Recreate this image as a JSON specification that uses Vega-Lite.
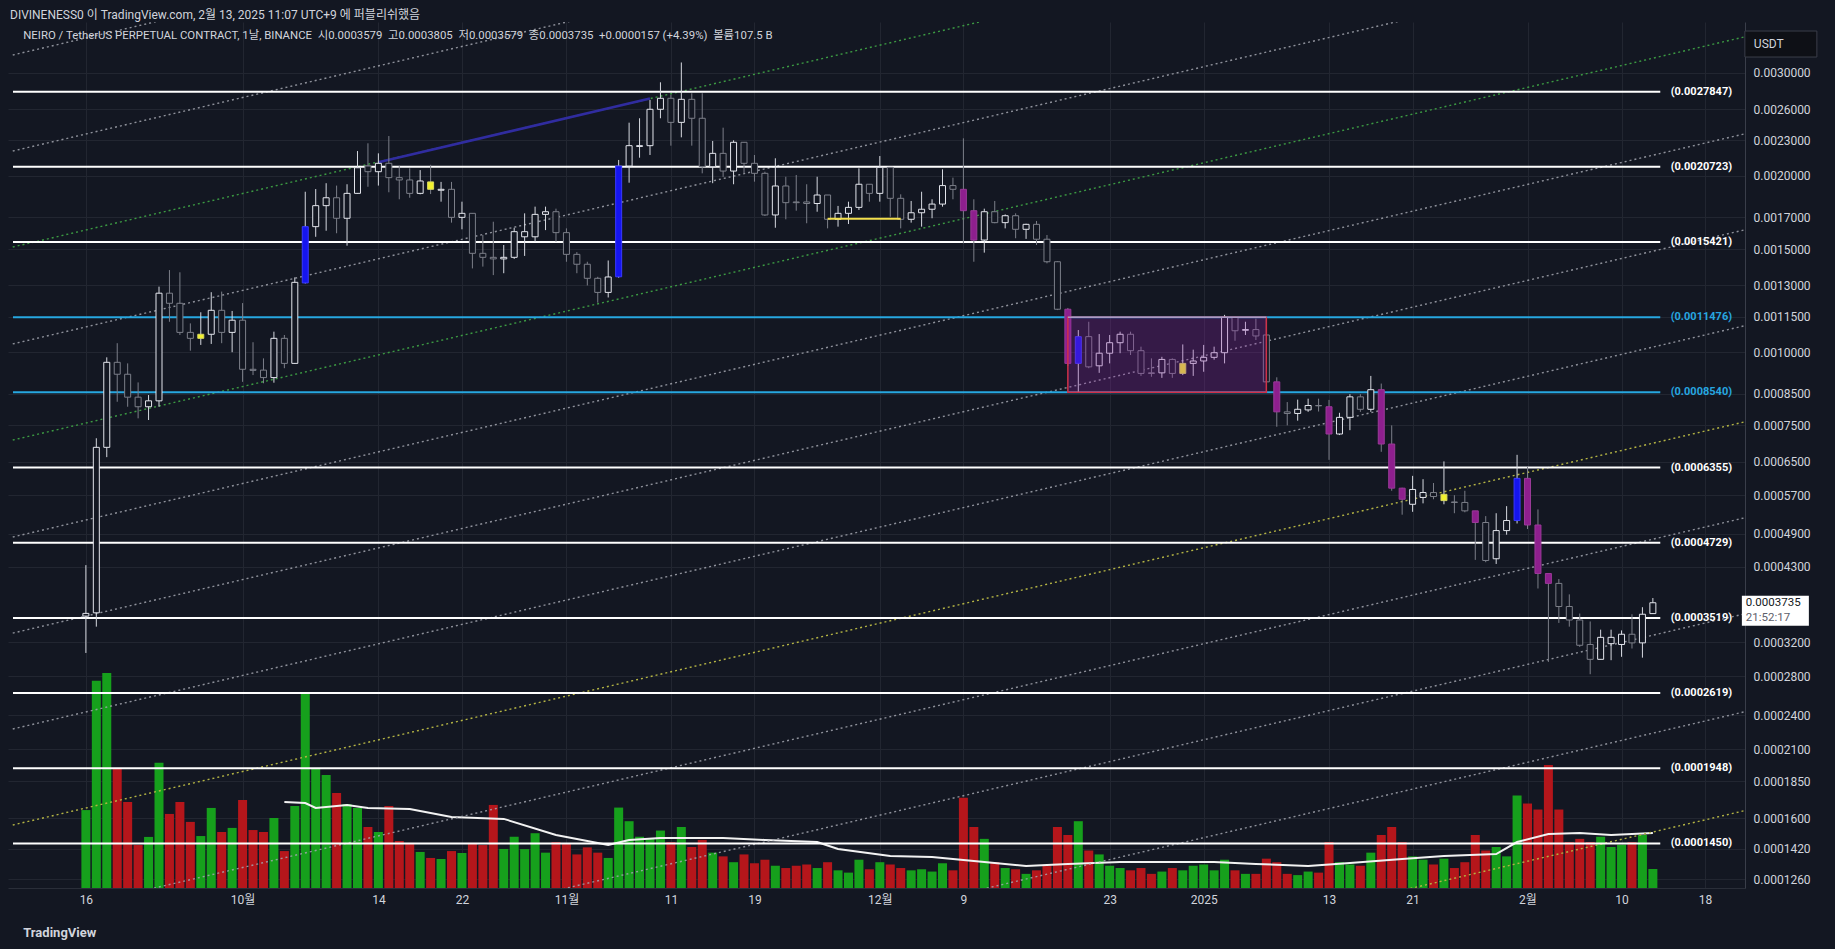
{
"$schema":"https://vega.github.io/schema/vega-lite/v6.json",
"width":1737,"height":866,"autosize":{"type":"none"},
"padding":{"left":8,"top":22,"right":90,"bottom":61},
"background":"#131722",
"config":{"view":{"stroke":null},"font":"Roboto"},
"title":{"text":"DIVINENESS0 이 TradingView.com, 2월 13, 2025 11:07 UTC+9 에 퍼블리쉬했음","anchor":"start","frame":"group","orient":"top","offset":6,"fontSize":12,"fontWeight":"normal","color":"#d1d4dc","font":"Roboto, 'Noto Sans CJK KR'","baseline":"bottom","dx":2,"dy":18},
"datasets":{
"candles":[
{"date":"2024-09-16","o":0.0003544,"h":0.000433,"l":0.0003066,"c":0.0003582,"v":441,"k":"w"},
{"date":"2024-09-17","o":0.000359,"h":0.000713,"l":0.00034,"c":0.000688,"v":1172,"k":"w"},
{"date":"2024-09-18","o":0.000688,"h":0.00098,"l":0.000662,"c":0.000961,"v":1217,"k":"w"},
{"date":"2024-09-19","o":0.000961,"h":0.001036,"l":0.000823,"c":0.000917,"v":674,"k":"g"},
{"date":"2024-09-20","o":0.000917,"h":0.000957,"l":0.000807,"c":0.000838,"v":487,"k":"g"},
{"date":"2024-09-21","o":0.000838,"h":0.000888,"l":0.000771,"c":0.000807,"v":243,"k":"g"},
{"date":"2024-09-22","o":0.000807,"h":0.000845,"l":0.000766,"c":0.000826,"v":289,"k":"w"},
{"date":"2024-09-23","o":0.000826,"h":0.001294,"l":0.000807,"c":0.001261,"v":708,"k":"w"},
{"date":"2024-09-24","o":0.001261,"h":0.001381,"l":0.001127,"c":0.001212,"v":419,"k":"g"},
{"date":"2024-09-25","o":0.001212,"h":0.001369,"l":0.00107,"c":0.001081,"v":487,"k":"g"},
{"date":"2024-09-26","o":0.001081,"h":0.00112,"l":0.001006,"c":0.001056,"v":374,"k":"g"},
{"date":"2024-09-27","o":0.001056,"h":0.00117,"l":0.001029,"c":0.001073,"v":294,"k":"y"},
{"date":"2024-09-28","o":0.001073,"h":0.001266,"l":0.001033,"c":0.001179,"v":453,"k":"w"},
{"date":"2024-09-29","o":0.001179,"h":0.001269,"l":0.001036,"c":0.001081,"v":317,"k":"g"},
{"date":"2024-09-30","o":0.001081,"h":0.001176,"l":0.001,"c":0.001134,"v":340,"k":"w"},
{"date":"2024-10-01","o":0.001134,"h":0.001213,"l":0.00089,"c":0.000935,"v":498,"k":"g"},
{"date":"2024-10-02","o":0.000935,"h":0.00104,"l":0.000914,"c":0.000931,"v":328,"k":"g"},
{"date":"2024-10-03","o":0.000932,"h":0.000976,"l":0.000885,"c":0.000905,"v":317,"k":"g"},
{"date":"2024-10-04","o":0.000905,"h":0.001084,"l":0.000887,"c":0.001056,"v":396,"k":"w"},
{"date":"2024-10-05","o":0.001056,"h":0.00107,"l":0.000939,"c":0.000957,"v":209,"k":"g"},
{"date":"2024-10-06","o":0.000957,"h":0.001342,"l":0.000955,"c":0.001316,"v":464,"k":"w"},
{"date":"2024-10-07","o":0.001313,"h":0.001879,"l":0.00131,"c":0.001638,"v":1098,"k":"b"},
{"date":"2024-10-08","o":0.001638,"h":0.001899,"l":0.001574,"c":0.001779,"v":674,"k":"w"},
{"date":"2024-10-09","o":0.001779,"h":0.001943,"l":0.001612,"c":0.001835,"v":640,"k":"w"},
{"date":"2024-10-10","o":0.001835,"h":0.001925,"l":0.001596,"c":0.001693,"v":538,"k":"g"},
{"date":"2024-10-11","o":0.001693,"h":0.001935,"l":0.00152,"c":0.001867,"v":475,"k":"w"},
{"date":"2024-10-12","o":0.001867,"h":0.002205,"l":0.001865,"c":0.002065,"v":453,"k":"w"},
{"date":"2024-10-13","o":0.002079,"h":0.002273,"l":0.001916,"c":0.002033,"v":345,"k":"g"},
{"date":"2024-10-14","o":0.002033,"h":0.002185,"l":0.001925,"c":0.002101,"v":317,"k":"w"},
{"date":"2024-10-15","o":0.002101,"h":0.002339,"l":0.001875,"c":0.001986,"v":464,"k":"g"},
{"date":"2024-10-16","o":0.001986,"h":0.002081,"l":0.001824,"c":0.001968,"v":266,"k":"g"},
{"date":"2024-10-17","o":0.001968,"h":0.00206,"l":0.001835,"c":0.001867,"v":255,"k":"g"},
{"date":"2024-10-18","o":0.001867,"h":0.002046,"l":0.00186,"c":0.00196,"v":204,"k":"w"},
{"date":"2024-10-19","o":0.001953,"h":0.002089,"l":0.001862,"c":0.001897,"v":170,"k":"y"},
{"date":"2024-10-20","o":0.00189,"h":0.001953,"l":0.001807,"c":0.001897,"v":164,"k":"w"},
{"date":"2024-10-21","o":0.001897,"h":0.001953,"l":0.001664,"c":0.001699,"v":209,"k":"g"},
{"date":"2024-10-22","o":0.001699,"h":0.001807,"l":0.001621,"c":0.001726,"v":198,"k":"w"},
{"date":"2024-10-23","o":0.001726,"h":0.001726,"l":0.00139,"c":0.001475,"v":255,"k":"g"},
{"date":"2024-10-24","o":0.001475,"h":0.001585,"l":0.0014,"c":0.001452,"v":243,"k":"g"},
{"date":"2024-10-25","o":0.001452,"h":0.00167,"l":0.001354,"c":0.001443,"v":470,"k":"g"},
{"date":"2024-10-26","o":0.001443,"h":0.001524,"l":0.001364,"c":0.001452,"v":221,"k":"w"},
{"date":"2024-10-27","o":0.001452,"h":0.001631,"l":0.001443,"c":0.001606,"v":290,"k":"w"},
{"date":"2024-10-28","o":0.001574,"h":0.001726,"l":0.00146,"c":0.001606,"v":220,"k":"w"},
{"date":"2024-10-29","o":0.001574,"h":0.001772,"l":0.001544,"c":0.001719,"v":310,"k":"w"},
{"date":"2024-10-30","o":0.001719,"h":0.001772,"l":0.001616,"c":0.001737,"v":200,"k":"w"},
{"date":"2024-10-31","o":0.001737,"h":0.001758,"l":0.001544,"c":0.0016,"v":260,"k":"g"},
{"date":"2024-11-01","o":0.0016,"h":0.001627,"l":0.001427,"c":0.001469,"v":250,"k":"g"},
{"date":"2024-11-02","o":0.001469,"h":0.001482,"l":0.001364,"c":0.001413,"v":190,"k":"g"},
{"date":"2024-11-03","o":0.001413,"h":0.001427,"l":0.0013,"c":0.001337,"v":230,"k":"g"},
{"date":"2024-11-04","o":0.001337,"h":0.001345,"l":0.001215,"c":0.001265,"v":200,"k":"g"},
{"date":"2024-11-05","o":0.001265,"h":0.001434,"l":0.00124,"c":0.001344,"v":170,"k":"w"},
{"date":"2024-11-06","o":0.001345,"h":0.002129,"l":0.00134,"c":0.002079,"v":455,"k":"b"},
{"date":"2024-11-07","o":0.002079,"h":0.002465,"l":0.001947,"c":0.002252,"v":378,"k":"w"},
{"date":"2024-11-08","o":0.002245,"h":0.002508,"l":0.002148,"c":0.002252,"v":290,"k":"w"},
{"date":"2024-11-09","o":0.002252,"h":0.002695,"l":0.002171,"c":0.002598,"v":278,"k":"w"},
{"date":"2024-11-10","o":0.002598,"h":0.002889,"l":0.002508,"c":0.002713,"v":325,"k":"w"},
{"date":"2024-11-11","o":0.002713,"h":0.00275,"l":0.002252,"c":0.002468,"v":260,"k":"g"},
{"date":"2024-11-12","o":0.002468,"h":0.003123,"l":0.002327,"c":0.002702,"v":345,"k":"w"},
{"date":"2024-11-13","o":0.002702,"h":0.002767,"l":0.002252,"c":0.002508,"v":232,"k":"g"},
{"date":"2024-11-14","o":0.002508,"h":0.002767,"l":0.00202,"c":0.002073,"v":272,"k":"g"},
{"date":"2024-11-15","o":0.002073,"h":0.002294,"l":0.001943,"c":0.002185,"v":200,"k":"w"},
{"date":"2024-11-16","o":0.002185,"h":0.002417,"l":0.001992,"c":0.002038,"v":179,"k":"g"},
{"date":"2024-11-17","o":0.002038,"h":0.0023,"l":0.001935,"c":0.002282,"v":146,"k":"w"},
{"date":"2024-11-18","o":0.002282,"h":0.002285,"l":0.00202,"c":0.002101,"v":190,"k":"g"},
{"date":"2024-11-19","o":0.002101,"h":0.002171,"l":0.001955,"c":0.00202,"v":140,"k":"g"},
{"date":"2024-11-20","o":0.00202,"h":0.002033,"l":0.001708,"c":0.001715,"v":160,"k":"g"},
{"date":"2024-11-21","o":0.001715,"h":0.002143,"l":0.001631,"c":0.001922,"v":126,"k":"w"},
{"date":"2024-11-22","o":0.001922,"h":0.001993,"l":0.001686,"c":0.0018,"v":113,"k":"g"},
{"date":"2024-11-23","o":0.001805,"h":0.002007,"l":0.001744,"c":0.0018,"v":126,"k":"g"},
{"date":"2024-11-24","o":0.001805,"h":0.001935,"l":0.00166,"c":0.001794,"v":133,"k":"g"},
{"date":"2024-11-25","o":0.001794,"h":0.001993,"l":0.001737,"c":0.001855,"v":113,"k":"w"},
{"date":"2024-11-26","o":0.001855,"h":0.001855,"l":0.001627,"c":0.001686,"v":146,"k":"g"},
{"date":"2024-11-27","o":0.001686,"h":0.001777,"l":0.001638,"c":0.001726,"v":100,"k":"w"},
{"date":"2024-11-28","o":0.001726,"h":0.001807,"l":0.001655,"c":0.001767,"v":87,"k":"w"},
{"date":"2024-11-29","o":0.001767,"h":0.00206,"l":0.001749,"c":0.001935,"v":160,"k":"w"},
{"date":"2024-11-30","o":0.001935,"h":0.001935,"l":0.001807,"c":0.001867,"v":106,"k":"g"},
{"date":"2024-12-01","o":0.001867,"h":0.002162,"l":0.001807,"c":0.002068,"v":146,"k":"w"},
{"date":"2024-12-02","o":0.002068,"h":0.002068,"l":0.001703,"c":0.001831,"v":133,"k":"g"},
{"date":"2024-12-03","o":0.001831,"h":0.00186,"l":0.001627,"c":0.001686,"v":113,"k":"g"},
{"date":"2024-12-04","o":0.001686,"h":0.001812,"l":0.001664,"c":0.00173,"v":100,"k":"w"},
{"date":"2024-12-05","o":0.00173,"h":0.001879,"l":0.001638,"c":0.001754,"v":106,"k":"w"},
{"date":"2024-12-06","o":0.001754,"h":0.001824,"l":0.001693,"c":0.00179,"v":93,"k":"w"},
{"date":"2024-12-07","o":0.00179,"h":0.002052,"l":0.001772,"c":0.001925,"v":140,"k":"w"},
{"date":"2024-12-08","o":0.001925,"h":0.001986,"l":0.001824,"c":0.001897,"v":100,"k":"g"},
{"date":"2024-12-09","o":0.001897,"h":0.002318,"l":0.001534,"c":0.001744,"v":511,"k":"p"},
{"date":"2024-12-10","o":0.001744,"h":0.001824,"l":0.001427,"c":0.001554,"v":345,"k":"p"},
{"date":"2024-12-11","o":0.001554,"h":0.001758,"l":0.001479,"c":0.001737,"v":278,"k":"w"},
{"date":"2024-12-12","o":0.001737,"h":0.001812,"l":0.00166,"c":0.001664,"v":146,"k":"g"},
{"date":"2024-12-13","o":0.001664,"h":0.001719,"l":0.001627,"c":0.00171,"v":113,"k":"w"},
{"date":"2024-12-14","o":0.00171,"h":0.001726,"l":0.001565,"c":0.001621,"v":106,"k":"g"},
{"date":"2024-12-15","o":0.001621,"h":0.001657,"l":0.001561,"c":0.001653,"v":80,"k":"w"},
{"date":"2024-12-16","o":0.001653,"h":0.001675,"l":0.001524,"c":0.001559,"v":100,"k":"g"},
{"date":"2024-12-17","o":0.001559,"h":0.001585,"l":0.001418,"c":0.001427,"v":126,"k":"g"},
{"date":"2024-12-18","o":0.001427,"h":0.00143,"l":0.00118,"c":0.001184,"v":345,"k":"g"},
{"date":"2024-12-19","o":0.001184,"h":0.00119,"l":0.000947,"c":0.000957,"v":300,"k":"p"},
{"date":"2024-12-20","o":0.000957,"h":0.001091,"l":0.000855,"c":0.001063,"v":378,"k":"b"},
{"date":"2024-12-21","o":0.001063,"h":0.001127,"l":0.000939,"c":0.000944,"v":212,"k":"g"},
{"date":"2024-12-22","o":0.000948,"h":0.001074,"l":0.000922,"c":0.000996,"v":190,"k":"w"},
{"date":"2024-12-23","o":0.000996,"h":0.00107,"l":0.000957,"c":0.001038,"v":126,"k":"w"},
{"date":"2024-12-24","o":0.001038,"h":0.001084,"l":0.000996,"c":0.001073,"v":113,"k":"w"},
{"date":"2024-12-25","o":0.001073,"h":0.001084,"l":0.000989,"c":0.001006,"v":100,"k":"g"},
{"date":"2024-12-26","o":0.001006,"h":0.001022,"l":0.000911,"c":0.00092,"v":113,"k":"g"},
{"date":"2024-12-27","o":0.000922,"h":0.000976,"l":0.000908,"c":0.00092,"v":80,"k":"g"},
{"date":"2024-12-28","o":0.000922,"h":0.000982,"l":0.000904,"c":0.000972,"v":93,"k":"w"},
{"date":"2024-12-29","o":0.000972,"h":0.000976,"l":0.000904,"c":0.00092,"v":113,"k":"g"},
{"date":"2024-12-30","o":0.00092,"h":0.001031,"l":0.000914,"c":0.000957,"v":100,"k":"y"},
{"date":"2024-12-31","o":0.000957,"h":0.00101,"l":0.000911,"c":0.000966,"v":126,"k":"w"},
{"date":"2025-01-01","o":0.000966,"h":0.001029,"l":0.000926,"c":0.00098,"v":133,"k":"w"},
{"date":"2025-01-02","o":0.00098,"h":0.001022,"l":0.000971,"c":0.000998,"v":100,"k":"w"},
{"date":"2025-01-03","o":0.000998,"h":0.001158,"l":0.000957,"c":0.001147,"v":160,"k":"w"},
{"date":"2025-01-04","o":0.001147,"h":0.00115,"l":0.001046,"c":0.001088,"v":100,"k":"g"},
{"date":"2025-01-05","o":0.00109,"h":0.001127,"l":0.00107,"c":0.001093,"v":80,"k":"w"},
{"date":"2025-01-06","o":0.001093,"h":0.001141,"l":0.001049,"c":0.001066,"v":80,"k":"g"},
{"date":"2025-01-07","o":0.00107,"h":0.001138,"l":0.00089,"c":0.00089,"v":166,"k":"g"},
{"date":"2025-01-08","o":0.00089,"h":0.000906,"l":0.000746,"c":0.000791,"v":146,"k":"p"},
{"date":"2025-01-09","o":0.000791,"h":0.000822,"l":0.00075,"c":0.000786,"v":80,"k":"g"},
{"date":"2025-01-10","o":0.000786,"h":0.00083,"l":0.000764,"c":0.000799,"v":73,"k":"w"},
{"date":"2025-01-11","o":0.000797,"h":0.000833,"l":0.000791,"c":0.000811,"v":93,"k":"w"},
{"date":"2025-01-12","o":0.000811,"h":0.000833,"l":0.000792,"c":0.00081,"v":87,"k":"g"},
{"date":"2025-01-13","o":0.000807,"h":0.000829,"l":0.000655,"c":0.000725,"v":260,"k":"p"},
{"date":"2025-01-14","o":0.000725,"h":0.000788,"l":0.000722,"c":0.000774,"v":146,"k":"w"},
{"date":"2025-01-15","o":0.000774,"h":0.000848,"l":0.000736,"c":0.000839,"v":133,"k":"w"},
{"date":"2025-01-16","o":0.000839,"h":0.000848,"l":0.000791,"c":0.000799,"v":126,"k":"g"},
{"date":"2025-01-17","o":0.000799,"h":0.000911,"l":0.000791,"c":0.000863,"v":200,"k":"w"},
{"date":"2025-01-18","o":0.000863,"h":0.000884,"l":0.000676,"c":0.000697,"v":300,"k":"p"},
{"date":"2025-01-19","o":0.000697,"h":0.00075,"l":0.00058,"c":0.000586,"v":345,"k":"p"},
{"date":"2025-01-20","o":0.000586,"h":0.000587,"l":0.000528,"c":0.000561,"v":260,"k":"p"},
{"date":"2025-01-21","o":0.00055,"h":0.000615,"l":0.000534,"c":0.000583,"v":179,"k":"w"},
{"date":"2025-01-22","o":0.000565,"h":0.000607,"l":0.000552,"c":0.000576,"v":160,"k":"w"},
{"date":"2025-01-23","o":0.000576,"h":0.000598,"l":0.000561,"c":0.000567,"v":133,"k":"g"},
{"date":"2025-01-24","o":0.000558,"h":0.000651,"l":0.00055,"c":0.000572,"v":166,"k":"y"},
{"date":"2025-01-25","o":0.000555,"h":0.00057,"l":0.000531,"c":0.000554,"v":113,"k":"g"},
{"date":"2025-01-26","o":0.000554,"h":0.00058,"l":0.000533,"c":0.000536,"v":146,"k":"g"},
{"date":"2025-01-27","o":0.000536,"h":0.000536,"l":0.000442,"c":0.000512,"v":300,"k":"p"},
{"date":"2025-01-28","o":0.000512,"h":0.000525,"l":0.000438,"c":0.000441,"v":212,"k":"g"},
{"date":"2025-01-29","o":0.000444,"h":0.000531,"l":0.000435,"c":0.000496,"v":232,"k":"w"},
{"date":"2025-01-30","o":0.000496,"h":0.000546,"l":0.000488,"c":0.000516,"v":179,"k":"w"},
{"date":"2025-01-31","o":0.000516,"h":0.000668,"l":0.00051,"c":0.000609,"v":524,"k":"b"},
{"date":"2025-02-01","o":0.000609,"h":0.000638,"l":0.000499,"c":0.000507,"v":478,"k":"p"},
{"date":"2025-02-02","o":0.000507,"h":0.000539,"l":0.000395,"c":0.000419,"v":444,"k":"p"},
{"date":"2025-02-03","o":0.000419,"h":0.000419,"l":0.000296,"c":0.000403,"v":696,"k":"p"},
{"date":"2025-02-04","o":0.000403,"h":0.00041,"l":0.000345,"c":0.000368,"v":444,"k":"g"},
{"date":"2025-02-05","o":0.000368,"h":0.000386,"l":0.00034,"c":0.000349,"v":260,"k":"g"},
{"date":"2025-02-06","o":0.000349,"h":0.000358,"l":0.000314,"c":0.000316,"v":278,"k":"g"},
{"date":"2025-02-07","o":0.000317,"h":0.000347,"l":0.000282,"c":0.000299,"v":260,"k":"g"},
{"date":"2025-02-08","o":0.000299,"h":0.000336,"l":0.000299,"c":0.000326,"v":290,"k":"w"},
{"date":"2025-02-09","o":0.000318,"h":0.000336,"l":0.000298,"c":0.000326,"v":232,"k":"w"},
{"date":"2025-02-10","o":0.000317,"h":0.000335,"l":0.000302,"c":0.00033,"v":245,"k":"w"},
{"date":"2025-02-11","o":0.00033,"h":0.000357,"l":0.000312,"c":0.000319,"v":260,"k":"g"},
{"date":"2025-02-12","o":0.000319,"h":0.000367,"l":0.000301,"c":0.000357,"v":300,"k":"w"},
{"date":"2025-02-13","o":0.0003579,"h":0.0003805,"l":0.0003579,"c":0.0003735,"v":107.5,"k":"w"}
],
"ma":[
{"date":"2024-10-05","ma":487},{"date":"2024-10-07","ma":481},{"date":"2024-10-08","ma":453},{"date":"2024-10-11","ma":470},{"date":"2024-10-13","ma":453},{"date":"2024-10-17","ma":447},{"date":"2024-10-21","ma":402},{"date":"2024-10-26","ma":391},{"date":"2024-10-31","ma":300},{"date":"2024-11-05","ma":243},{"date":"2024-11-07","ma":272},{"date":"2024-11-10","ma":283},{"date":"2024-11-16","ma":283},{"date":"2024-11-20","ma":272},{"date":"2024-11-25","ma":260},{"date":"2024-11-27","ma":221},{"date":"2024-12-02","ma":181},{"date":"2024-12-06","ma":175},{"date":"2024-12-11","ma":147},{"date":"2024-12-15","ma":125},{"date":"2024-12-19","ma":136},{"date":"2024-12-24","ma":147},{"date":"2024-12-28","ma":147},{"date":"2025-01-02","ma":147},{"date":"2025-01-06","ma":136},{"date":"2025-01-11","ma":125},{"date":"2025-01-15","ma":142},{"date":"2025-01-20","ma":164},{"date":"2025-01-24","ma":181},{"date":"2025-01-29","ma":192},{"date":"2025-01-31","ma":260},{"date":"2025-02-03","ma":306},{"date":"2025-02-06","ma":311},{"date":"2025-02-09","ma":300},{"date":"2025-02-13","ma":311}
],
"chan":[
{"id":1,"kind":"gray","date":"2024-09-09","p":0.003216},{"id":1,"kind":"gray","date":"2025-02-22","p":0.015723},
{"id":2,"kind":"gray","date":"2024-09-09","p":0.002205},{"id":2,"kind":"gray","date":"2025-02-22","p":0.010782},
{"id":3,"kind":"green","date":"2024-09-09","p":0.001512},{"id":3,"kind":"green","date":"2025-02-22","p":0.007392},
{"id":4,"kind":"gray","date":"2024-09-09","p":0.001033},{"id":4,"kind":"gray","date":"2025-02-22","p":0.00505},
{"id":5,"kind":"green","date":"2024-09-09","p":0.000708},{"id":5,"kind":"green","date":"2025-02-22","p":0.003461},
{"id":6,"kind":"gray","date":"2024-09-09","p":0.0004836},{"id":6,"kind":"gray","date":"2025-02-22","p":0.002364},
{"id":7,"kind":"gray","date":"2024-09-09","p":0.0003315},{"id":7,"kind":"gray","date":"2025-02-22","p":0.001621},
{"id":8,"kind":"gray","date":"2024-09-09","p":0.0002274},{"id":8,"kind":"gray","date":"2025-02-22","p":0.001112},
{"id":9,"kind":"yellow","date":"2024-09-09","p":0.0001559},{"id":9,"kind":"yellow","date":"2025-02-22","p":0.0007621},
{"id":10,"kind":"gray","date":"2024-09-09","p":0.0001069},{"id":10,"kind":"gray","date":"2025-02-22","p":0.0005226},
{"id":11,"kind":"gray","date":"2024-09-09","p":0.0000733},{"id":11,"kind":"gray","date":"2025-02-22","p":0.0003583},
{"id":12,"kind":"gray","date":"2024-09-09","p":0.0000499},{"id":12,"kind":"gray","date":"2025-02-22","p":0.0002438},
{"id":13,"kind":"yellow","date":"2024-09-09","p":0.0000338},{"id":13,"kind":"yellow","date":"2025-02-22","p":0.0001653},
{"id":14,"kind":"indigo","date":"2024-10-14","p":0.00211},{"id":14,"kind":"indigo","date":"2024-11-09","p":0.00271}
],
"levels":[
{"p":0.0027847,"t":"(0.0027847)","c":"w"},
{"p":0.0020723,"t":"(0.0020723)","c":"w"},
{"p":0.0015421,"t":"(0.0015421)","c":"w"},
{"p":0.0011476,"t":"(0.0011476)","c":"c"},
{"p":0.000854,"t":"(0.0008540)","c":"c"},
{"p":0.0006355,"t":"(0.0006355)","c":"w"},
{"p":0.0004729,"t":"(0.0004729)","c":"w"},
{"p":0.0003519,"t":"(0.0003519)","c":"w"},
{"p":0.0002619,"t":"(0.0002619)","c":"w"},
{"p":0.0001948,"t":"(0.0001948)","c":"w"},
{"p":0.000145,"t":"(0.0001450)","c":"w"}
],
"zone":[{"start":"2024-12-19","end":"2025-01-07","lo":0.000854,"hi":0.0011476}],
"seg":[{"start":"2024-11-26","end":"2024-12-03","p":0.00169}]
},
"layer":[
{"data":{"name":"candles"},
 "layer":[
  {"mark":{"type":"bar","width":9},
   "encoding":{
    "x":{"field":"date","type":"temporal",
     "scale":{"type":"utc","domain":[{"year":2024,"month":9,"date":9,"hours":0,"minutes":34,"utc":true},{"year":2025,"month":2,"date":21,"hours":8,"minutes":10,"utc":true}]},
     "axis":{"title":null,"values":[{"year":2024,"month":9,"date":16,"utc":true},{"year":2024,"month":10,"date":1,"utc":true},{"year":2024,"month":10,"date":14,"utc":true},{"year":2024,"month":10,"date":22,"utc":true},{"year":2024,"month":11,"date":1,"utc":true},{"year":2024,"month":11,"date":11,"utc":true},{"year":2024,"month":11,"date":19,"utc":true},{"year":2024,"month":12,"date":1,"utc":true},{"year":2024,"month":12,"date":9,"utc":true},{"year":2024,"month":12,"date":23,"utc":true},{"year":2025,"month":1,"date":1,"utc":true},{"year":2025,"month":1,"date":13,"utc":true},{"year":2025,"month":1,"date":21,"utc":true},{"year":2025,"month":2,"date":1,"utc":true},{"year":2025,"month":2,"date":10,"utc":true},{"year":2025,"month":2,"date":18,"utc":true}],
      "labelExpr":"utcdate(datum.value) == 1 ? (utcmonth(datum.value) == 0 ? '' + utcyear(datum.value) : (utcmonth(datum.value) + 1) + '월') : '' + utcdate(datum.value)",
      "grid":true,"gridColor":"#222631","ticks":false,"labelPadding":6,"labelColor":"#d1d4dc","labelFontSize":12,"labelFont":"Roboto, 'Noto Sans CJK KR'","domainColor":"#2a2e39","labelFlush":false,"labelOverlap":false}},
    "y":{"field":"v","type":"quantitative","scale":{"domain":[0,4900],"nice":false},"axis":null},
    "color":{"condition":{"test":"datum.c >= datum.o","value":"#16a01c"},"value":"#b5161b"}
   }},
  {"data":{"name":"ma"},"mark":{"type":"line","color":"#f2f2f2","strokeWidth":2},
   "encoding":{"x":{"field":"date","type":"temporal"},"y":{"field":"ma","type":"quantitative"}}}
 ]},
{"layer":[
  {"data":{"name":"chan"},"transform":[{"filter":"datum.kind == 'gray'"}],
   "mark":{"type":"line","clip":true,"color":"#a4a7b0","strokeWidth":1.4,"strokeDash":[2,3],"opacity":0.85},
   "encoding":{"x":{"field":"date","type":"temporal"},
    "y":{"field":"p","type":"quantitative","scale":{"type":"log","domain":[0.00012171,0.0036617],"nice":false},
     "axis":{"orient":"right","title":null,"values":[0.003,0.0026,0.0023,0.002,0.0017,0.0015,0.0013,0.00115,0.001,0.00085,0.00075,0.00065,0.00057,0.00049,0.00043,0.00032,0.00028,0.00024,0.00021,0.000185,0.00016,0.000142,0.000126],"format":".7f","grid":true,"gridColor":"#222631","ticks":false,"labelPadding":8,"labelColor":"#d1d4dc","labelFontSize":12,"domainColor":"#3a3e4a","labelFlush":false,"labelOverlap":false}},
    "detail":{"field":"id"}}},
  {"data":{"name":"chan"},"transform":[{"filter":"datum.kind == 'green'"}],
   "mark":{"type":"line","clip":true,"color":"#3c9a43","strokeWidth":1.4,"strokeDash":[2,3]},
   "encoding":{"x":{"field":"date","type":"temporal"},"y":{"field":"p","type":"quantitative"},"detail":{"field":"id"}}},
  {"data":{"name":"chan"},"transform":[{"filter":"datum.kind == 'yellow'"}],
   "mark":{"type":"line","clip":true,"color":"#b4b444","strokeWidth":1.4,"strokeDash":[2,3]},
   "encoding":{"x":{"field":"date","type":"temporal"},"y":{"field":"p","type":"quantitative"},"detail":{"field":"id"}}},
  {"data":{"name":"chan"},"transform":[{"filter":"datum.kind == 'indigo'"}],
   "mark":{"type":"line","clip":true,"color":"#302ca0","strokeWidth":2.5},
   "encoding":{"x":{"field":"date","type":"temporal"},"y":{"field":"p","type":"quantitative"},"detail":{"field":"id"}}},
  {"data":{"name":"levels"},"mark":{"type":"rule","strokeWidth":2},
   "encoding":{"x":{"datum":{"year":2024,"month":9,"date":9,"hours":0,"minutes":34,"utc":true},"type":"temporal"},
    "x2":{"datum":{"year":2025,"month":2,"date":13,"hours":17,"utc":true}},
    "y":{"field":"p","type":"quantitative"},
    "color":{"condition":{"test":"datum.c == 'c'","value":"#27a7e0"},"value":"#ffffff"}}},
  {"data":{"name":"candles"},"mark":{"type":"rule","strokeWidth":1},
   "encoding":{"x":{"field":"date","type":"temporal"},"y":{"field":"l","type":"quantitative"},"y2":{"field":"h"},
    "color":{"condition":{"test":"datum.c >= datum.o","value":"#d6d9e0"},"value":"#7c7f89"}}},
  {"data":{"name":"candles"},"mark":{"type":"bar","width":6,"strokeWidth":1},
   "encoding":{"x":{"field":"date","type":"temporal"},"y":{"field":"o","type":"quantitative"},"y2":{"field":"c"},
    "fill":{"condition":[{"test":"datum.k == 'b'","value":"#1515f0"},{"test":"datum.k == 'p'","value":"#8e1f8e"},{"test":"datum.k == 'y'","value":"#f2f22e"}],"value":"#131722"},
    "stroke":{"condition":[{"test":"datum.k == 'b'","value":"#3a3aff"},{"test":"datum.k == 'p'","value":"#9a3a98"},{"test":"datum.k == 'y'","value":"#d8d860"},{"test":"datum.k == 'w'","value":"#e3e5ec"}],"value":"#7c7f89"}}},
  {"data":{"name":"zone"},"mark":{"type":"rect","fill":"#8e24aa","fillOpacity":0.28,"stroke":"#cf3148","strokeWidth":1.5},
   "encoding":{"x":{"field":"start","type":"temporal"},"x2":{"field":"end"},"y":{"field":"lo","type":"quantitative"},"y2":{"field":"hi"}}},
  {"data":{"name":"zone"},"mark":{"type":"rule","color":"#a89cc4","strokeWidth":1.5},
   "encoding":{"x":{"field":"start","type":"temporal"},"x2":{"field":"end"},"y":{"field":"hi","type":"quantitative"}}},
  {"data":{"name":"seg"},"mark":{"type":"rule","color":"#f4e04d","strokeWidth":2},
   "encoding":{"x":{"field":"start","type":"temporal"},"x2":{"field":"end"},"y":{"field":"p","type":"quantitative"}}},
  {"data":{"name":"levels"},"mark":{"type":"text","align":"right","baseline":"middle","fontSize":11,"fontWeight":"bold"},
   "encoding":{"x":{"datum":{"year":2025,"month":2,"date":20,"hours":14,"utc":true},"type":"temporal"},"y":{"field":"p","type":"quantitative"},"text":{"field":"t"},
    "color":{"condition":{"test":"datum.c == 'c'","value":"#27a7e0"},"value":"#ffffff"}}},
  {"data":{"values":[{"t":"NEIRO / TetherUS PERPETUAL CONTRACT, 1날, BINANCE\u00a0\u00a0시0.0003579\u00a0\u00a0고0.0003805\u00a0\u00a0저0.0003579\u00a0\u00a0종0.0003735\u00a0\u00a0+0.0000157 (+4.39%)\u00a0\u00a0볼륨107.5\u00a0B"}]},
   "mark":{"type":"text","align":"left","baseline":"middle","fontSize":11.4,"color":"#d1d4dc","font":"Roboto, 'Noto Sans CJK KR'"},
   "encoding":{"x":{"datum":{"year":2024,"month":9,"date":10,"utc":true},"type":"temporal"},"y":{"datum":0.003466,"type":"quantitative"},"text":{"field":"t"}}},
  {"data":{"values":[{"t":"USDT"}]},
   "encoding":{"x":{"datum":{"year":2025,"month":2,"date":13,"utc":true},"type":"temporal"},"y":{"datum":0.003358,"type":"quantitative"}},
   "layer":[
    {"mark":{"type":"point","shape":"M92,-13L164,-13L164,13L92,13Z","size":4,"filled":true,"fill":"#0e1016","stroke":"#3a3e4a","strokeWidth":1,"opacity":1}},
    {"mark":{"type":"text","align":"left","baseline":"middle","dx":101,"fontSize":12,"color":"#d1d4dc"},"encoding":{"text":{"field":"t"}}}
   ]},
  {"data":{"values":[{"p":0.0003735,"t":"0.0003735","s":"21:52:17"}]},
   "encoding":{"x":{"datum":{"year":2025,"month":2,"date":13,"utc":true},"type":"temporal"},"y":{"field":"p","type":"quantitative"}},
   "layer":[
    {"mark":{"type":"point","shape":"M89,-7L156,-7L156,23L89,23Z","size":4,"filled":true,"fill":"#ffffff","opacity":1}},
    {"mark":{"type":"text","align":"left","baseline":"middle","dx":93,"fontSize":11.5,"color":"#131722"},"encoding":{"text":{"field":"t"}}},
    {"mark":{"type":"text","align":"left","baseline":"middle","dx":93,"dy":15,"fontSize":11.5,"color":"#5d606b"},"encoding":{"text":{"field":"s"}}}
   ]},
  {"data":{"values":[{"t":"TradingView"}]},
   "mark":{"type":"text","align":"left","baseline":"middle","fontSize":13,"fontWeight":"bold","color":"#d1d4dc"},
   "encoding":{"x":{"datum":{"year":2024,"month":9,"date":10,"utc":true},"type":"temporal"},"y":{"datum":0.000102,"type":"quantitative"},"text":{"field":"t"}}}
 ]}
],
"resolve":{"scale":{"y":"independent"}}
}
